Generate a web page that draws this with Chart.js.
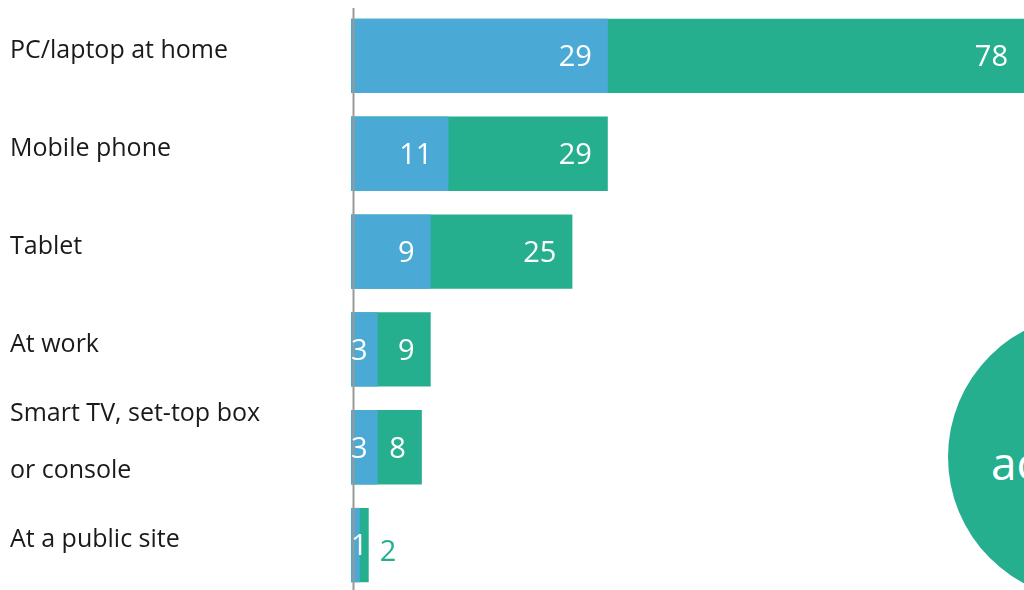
<!DOCTYPE html>
<html>
<head>
<meta charset="utf-8">
<script src="https://cdn.jsdelivr.net/npm/chart.js@4.4.1/dist/chart.umd.min.js"></script>
<style>
  html, body { margin: 0; padding: 0; background: #fff; overflow: hidden; width: 1024px; height: 590px; }
  #wrap { position: absolute; left: 0; top: 0; width: 1024px; height: 594px; }
  #bubble {
    position: absolute; left: 948px; top: 314px; width: 286px; height: 286px;
    border-radius: 50%; background: #26af8f;
  }
  #bubble-text {
    position: absolute; left: 991px; top: 439px; font: 46px "Open Sans", sans-serif;
    line-height: 1; color: #fff; white-space: nowrap;
  }
</style>
</head>
<body>
<div id="wrap"><canvas id="chart-canvas"></canvas></div>
<div id="bubble"></div>
<div id="bubble-text">access</div>
<script>
var categories = [
    'PC/laptop at home',
    'Mobile phone',
    'Tablet',
    'At work',
    ['Smart TV, set-top box', 'or console'],
    'At a public site'
];
var subsetValues = [29, 11, 9, 3, 3, 1];
var totalValues = [78, 29, 25, 9, 8, 2];

var BLUE = '#4ba9d5';
var GREEN = '#26af8f';

// axis line drawn over the bars, like the original
var axisLine = {
    id: 'axisLine',
    afterDatasetsDraw: function (chart) {
        var ctx = chart.ctx;
        var x = chart.chartArea.left + 2.5;
        ctx.save();
        ctx.strokeStyle = '#999';
        ctx.lineWidth = 2;
        ctx.beginPath();
        ctx.moveTo(x, 8);
        ctx.lineTo(x, 592);
        ctx.stroke();
        ctx.restore();
    }
};

// category names on the left, two-line names get a wide line gap
var categoryLabels = {
    id: 'categoryLabels',
    afterDraw: function (chart) {
        var ctx = chart.ctx;
        var yScale = chart.scales.y;
        ctx.save();
        ctx.font = '25px "Open Sans", sans-serif';
        ctx.fillStyle = '#1a1a1a';
        ctx.textAlign = 'left';
        ctx.textBaseline = 'middle';
        categories.forEach(function (label, i) {
            var lines = Array.isArray(label) ? label : [label];
            var gap = 57;
            var y0 = yScale.getPixelForValue(i) - 5 - (lines.length - 1) * gap / 2;
            lines.forEach(function (line, j) {
                ctx.fillText(line, 10, y0 + j * gap);
            });
        });
        ctx.restore();
    }
};

// value labels at the end of each bar
var valueLabels = {
    id: 'valueLabels',
    afterDraw: function (chart) {
        var ctx = chart.ctx;
        var area = chart.chartArea;
        var blueBars = chart.getDatasetMeta(0).data;
        var greenBars = chart.getDatasetMeta(1).data;
        ctx.save();
        ctx.font = '29px "Open Sans", sans-serif';
        ctx.textBaseline = 'middle';
        ctx.beginPath();
        ctx.rect(area.left + 1, 0, chart.width, chart.height);
        ctx.clip();
        blueBars.forEach(function (bar, i) {
            var txt = String(subsetValues[i]);
            var w = ctx.measureText(txt).width;
            var x = Math.max(bar.x - 16, area.left + w);
            ctx.fillStyle = '#fff';
            ctx.textAlign = 'right';
            ctx.fillText(txt, x, bar.y + 2);
        });
        greenBars.forEach(function (bar, i) {
            var txt = String(totalValues[i]);
            var w = ctx.measureText(txt).width;
            var start = blueBars[i].x;
            var end = Math.min(bar.x, area.right);
            if (end - start > w + 20) {
                ctx.fillStyle = '#fff';
                ctx.textAlign = 'right';
                ctx.fillText(txt, end - 16, bar.y + 2);
            } else {
                ctx.fillStyle = GREEN;
                ctx.textAlign = 'left';
                ctx.fillText(txt, bar.x + 11, bar.y + 8);
            }
        });
        ctx.restore();
    }
};

var ctx = document.getElementById('chart-canvas');
var chart = new Chart(ctx, {
    type: 'bar',
    data: {
        labels: categories,
        datasets: [{
            label: 'subset',
            data: subsetValues,
            backgroundColor: BLUE,
            grouped: false,
            categoryPercentage: 1,
            barPercentage: 0.76
        }, {
            label: 'total',
            data: totalValues,
            backgroundColor: GREEN,
            grouped: false,
            categoryPercentage: 1,
            barPercentage: 0.76
        }]
    },
    options: {
        indexAxis: 'y',
        responsive: true,
        maintainAspectRatio: false,
        animation: false,
        layout: { padding: { left: 10, top: 7, right: 0, bottom: 0 } },
        plugins: {
            legend: { display: false },
            tooltip: { enabled: false }
        },
        scales: {
            x: {
                min: 0,
                max: 76,
                display: false
            },
            y: {
                grid: { display: false },
                border: { display: false },
                ticks: { display: false },
                afterFit: function (scale) { scale.width = 341; }
            }
        }
    },
    plugins: [axisLine, categoryLabels, valueLabels]
});
</script>
</body>
</html>
